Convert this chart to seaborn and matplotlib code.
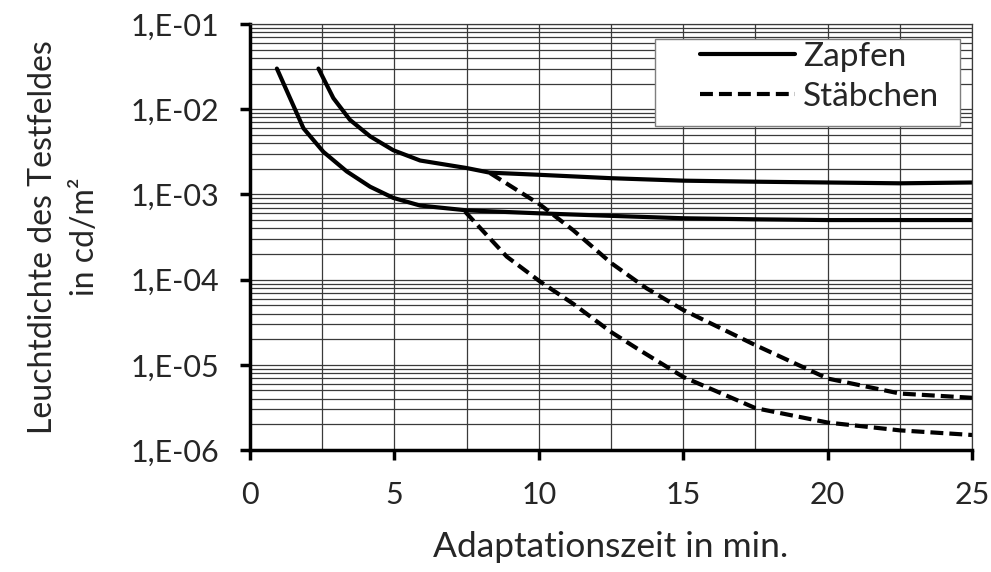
import pandas as pd
import matplotlib.pyplot as plt
import seaborn as sns
from matplotlib.patches import Rectangle
from matplotlib.ticker import MultipleLocator, LogLocator, NullFormatter

# Zapfen (Kurve 1, links)
zapfen1_x = [0.93, 1.385, 1.85, 2.54, 3.35, 4.16, 4.96, 5.89, 7.5, 10.0, 12.5, 15.0, 17.5, 20.0, 22.5, 25.0]
zapfen1_y = [3.0e-2, 1.35e-2, 5.97e-3, 3.16e-3, 1.86e-3, 1.23e-3, 9.1e-4, 7.4e-4,
             6.5e-4, 6.0e-4, 5.6e-4, 5.25e-4, 5.1e-4, 5.0e-4, 5.0e-4, 5.0e-4]
# Zapfen (Kurve 2, rechts)
zapfen2_x = [2.37, 2.885, 3.46, 4.16, 4.96, 5.89, 7.5, 8.3, 10.0, 12.5, 15.0, 17.5, 20.0, 22.5, 25.0]
zapfen2_y = [3.0e-2, 1.35e-2, 7.5e-3, 4.8e-3, 3.3e-3, 2.5e-3, 2.04e-3, 1.8e-3, 1.7e-3,
             1.55e-3, 1.45e-3, 1.41e-3, 1.38e-3, 1.35e-3, 1.38e-3]
# Stäbchen (Kurve 1)
staebchen1_x = [7.44, 8.89, 10.04, 11.19, 12.52, 13.5, 15.0, 17.5, 20.0, 22.5, 25.0]
staebchen1_y = [6.3e-4, 1.86e-4, 9.5e-5, 5.2e-5, 2.4e-5, 1.48e-5, 7.2e-6, 3.1e-6, 2.1e-6, 1.7e-6, 1.5e-6]
# Stäbchen (Kurve 2)
staebchen2_x = [8.31, 10.04, 11.19, 12.52, 13.73, 15.0, 17.5, 20.0, 22.5, 25.0]
staebchen2_y = [1.78e-3, 7.6e-4, 3.8e-4, 1.55e-4, 7.9e-5, 4.4e-5, 1.7e-5, 6.9e-6, 4.6e-6, 4.1e-6]

y_ticks = [1e-1, 1e-2, 1e-3, 1e-4, 1e-5, 1e-6]
y_labels = ["1,E-01", "1,E-02", "1,E-03", "1,E-04", "1,E-05", "1,E-06"]
x_ticks = [0, 5, 10, 15, 20, 25]


def curves_to_df() -> pd.DataFrame:
    """Alle Kurven in einen DataFrame"""
    parts = []
    for name, typ, xs, ys in [
        ("z1", "Zapfen", zapfen1_x, zapfen1_y),
        ("z2", "Zapfen", zapfen2_x, zapfen2_y),
        ("s1", "Stäbchen", staebchen1_x, staebchen1_y),
        ("s2", "Stäbchen", staebchen2_x, staebchen2_y),
    ]:
        parts.append(pd.DataFrame({"zeit": xs, "leuchtdichte": ys, "typ": typ, "kurve": name}))
    return pd.concat(parts, ignore_index=True)


df = curves_to_df()

sns.set_theme(style="ticks")
plt.rcParams["font.family"] = ["Lato", "DejaVu Sans"]

fig = plt.figure(figsize=(9.91, 5.72), dpi=100)
ax = fig.add_axes([0.2523, 0.2133, 0.7286, 0.7447])

sns.lineplot(
    data=df, x="zeit", y="leuchtdichte",
    style="typ", units="kurve", estimator=None,
    style_order=["Zapfen", "Stäbchen"],
    dashes={"Zapfen": "", "Stäbchen": (3.1, 1.45)},
    color="black", linewidth=3, ax=ax,
)

ax.set_yscale("log")
ax.set_xlim(0, 25)
ax.set_ylim(1e-6, 1e-1)

ax.set_yticks(y_ticks, y_labels)
ax.yaxis.set_minor_locator(LogLocator(base=10, subs=range(2, 10)))
ax.yaxis.set_minor_formatter(NullFormatter())
ax.set_xticks(x_ticks)
ax.xaxis.set_minor_locator(MultipleLocator(2.5))

ax.grid(True, which="both", color="#3a3a3a", linewidth=0.9)
ax.set_axisbelow(True)

ax.tick_params(which="major", length=7, width=2.5, color="black", labelsize=22)
ax.tick_params(axis="y", which="major", pad=15)
ax.tick_params(axis="x", which="major", pad=15)
ax.tick_params(which="minor", length=0)

for side in ["left", "bottom"]:
    ax.spines[side].set_linewidth(2.5)
    ax.spines[side].set_color("black")
for side in ["top", "right"]:
    ax.spines[side].set_linewidth(0.9)
    ax.spines[side].set_color("#3a3a3a")

ax.set_xlabel("Adaptationszeit in min.", fontsize=25.5, labelpad=16)
ax.set_ylabel("Leuchtdichte des Testfeldes\nin cd/m²", fontsize=23, labelpad=22, linespacing=1.5)

# Legendenrahmen wie im Original (breiter Innenabstand links)
ax.add_patch(Rectangle((0.561, 0.761), 0.422, 0.204, transform=ax.transAxes,
                       facecolor="white", edgecolor="#7f7f7f", linewidth=1.0, zorder=4))
handles, labels = ax.get_legend_handles_labels()
for h in handles:
    h.set_linewidth(3)
leg = ax.legend(
    handles, labels, loc="upper left", bbox_to_anchor=(0.623, 0.958),
    borderaxespad=0, borderpad=0, fontsize=24, frameon=False,
    handlelength=2.85, handletextpad=0.25, labelspacing=0.3,
)
leg.set_zorder(5)

fig.savefig("out.png", dpi=100)
